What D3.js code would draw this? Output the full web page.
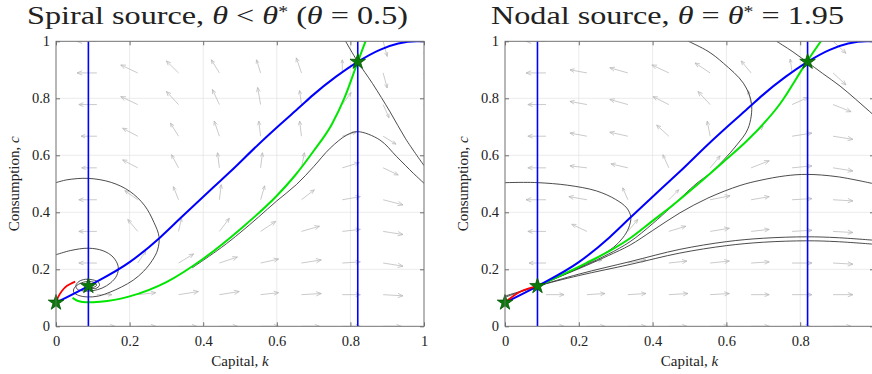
<!DOCTYPE html>
<html>
<head>
<meta charset="utf-8">
<script src="https://cdn.jsdelivr.net/npm/d3@7"></script>
<style>
  body { margin: 0; background: #fff; }
  svg text { font-family: "Liberation Serif", "Times New Roman", serif; fill: #222; }
</style>
</head>
<body>
<svg id="chart" width="872" height="374"></svg>
<script>
// ---- data ----
const ticks = [0, 0.2, 0.4, 0.6, 0.8, 1];

// quiver grid (tails)
const kGrid = [0.111, 0.222, 0.333, 0.444, 0.556, 0.667, 0.778, 0.889, 1];
const cGrid = [1, 0.889, 0.778, 0.667, 0.556, 0.444, 0.333, 0.222, 0.111, 0];

// shared loci and steady states
const steadyStates = [[0, 0.083], [0.088, 0.141], [0.82, 0.928]];
const cDotZeroK = [0.088, 0.82];
const kDotZero = [[0, 0.083], [0.088, 0.141], [0.2, 0.225], [0.283, 0.312], [0.337, 0.378],
  [0.427, 0.487], [0.474, 0.543], [0.55, 0.638], [0.609, 0.708], [0.663, 0.77], [0.699, 0.812],
  [0.76, 0.875], [0.82, 0.928], [0.88, 0.97], [0.93, 0.992], [0.98, 1.0], [1.0, 1.0]];

// left panel: spiral source
const spiralSaddle = [[0.045, 0.1], [0.06, 0.089], [0.083, 0.084], [0.12, 0.086], [0.2, 0.105],
  [0.3, 0.155], [0.4, 0.237], [0.5, 0.34], [0.6, 0.458], [0.65, 0.53], [0.7, 0.615],
  [0.75, 0.71], [0.785, 0.805], [0.82, 0.928], [0.841, 1.0]];
const spiralRed = [[0, 0.083], [0.006, 0.103], [0.016, 0.124], [0.03, 0.142], [0.052, 0.157]];
const spiralTrajA = [[0, 0.504], [0.03, 0.514], [0.088, 0.519], [0.15, 0.505], [0.2, 0.474],
  [0.24, 0.425], [0.266, 0.365], [0.28, 0.314], [0.276, 0.268], [0.262, 0.232], [0.238, 0.193],
  [0.21, 0.162], [0.178, 0.138], [0.147, 0.12], [0.115, 0.106], [0.085, 0.103], [0.062, 0.108],
  [0.048, 0.12], [0.05, 0.135], [0.065, 0.15], [0.085, 0.157], [0.105, 0.153], [0.11, 0.143],
  [0.098, 0.136], [0.088, 0.141]];
const spiralTrajB = [[0, 0.251], [0.04, 0.266], [0.088, 0.274], [0.128, 0.265], [0.155, 0.243],
  [0.169, 0.21], [0.165, 0.178], [0.148, 0.152], [0.125, 0.134], [0.1, 0.125], [0.075, 0.124],
  [0.058, 0.13], [0.054, 0.143], [0.062, 0.157], [0.08, 0.165], [0.1, 0.163], [0.115, 0.155],
  [0.118, 0.143], [0.108, 0.133], [0.094, 0.135], [0.088, 0.141]];
const spiralTrajHump = [[0.37, 0.205], [0.45, 0.277], [0.5, 0.328], [0.55, 0.383], [0.6, 0.44],
  [0.654, 0.498], [0.7, 0.56], [0.745, 0.625], [0.79, 0.671], [0.82, 0.683], [0.88, 0.654],
  [0.926, 0.595], [0.971, 0.537], [1.0, 0.502]];
const spiralTrajTop = [[0.787, 1.0], [0.82, 0.928], [0.86, 0.852], [0.908, 0.752], [0.95, 0.658], [1.0, 0.564]];

const spiralU = [
  [-0.054, -0.046, -0.033, -0.022, -0.011, -0.014, 0, 0.011, 0.005],
  [-0.054, -0.046, -0.033, -0.022, -0.011, -0.014, 0, 0.011, 0.008],
  [-0.049, -0.046, -0.033, -0.019, -0.008, -0.005, 0.024, 0.016, 0.014],
  [-0.043, -0.041, -0.022, -0.014, -0.005, -0.005, 0.038, 0.035, 0.027],
  [-0.041, -0.041, -0.019, -0.005, 0.005, 0.008, 0.046, 0.041, 0.035],
  [-0.049, -0.035, -0.014, 0.005, 0.011, 0.035, 0.049, 0.054, 0.049],
  [-0.049, -0.027, 0.008, 0.027, 0.041, 0.049, 0.049, 0.054, 0.052],
  [-0.049, 0.022, 0.041, 0.049, 0.049, 0.054, 0.049, 0.054, 0.054],
  [0.041, 0.049, 0.054, 0.054, 0.049, 0.054, 0.049, 0.054, 0.054],
  [0.049, 0.049, 0.049, 0.049, 0.049, 0.049, 0.049, 0.049, 0.049]];
const spiralV = [
  [0, 0.028, 0.042, 0.046, 0.046, 0.053, 0.046, -0.053, -0.053],
  [0, 0.028, 0.042, 0.046, 0.046, 0.053, 0.046, -0.053, -0.053],
  [0, 0.028, 0.046, 0.053, 0.06, 0.049, 0.042, -0.046, -0.049],
  [0, 0.028, 0.046, 0.053, 0.053, 0.053, 0.014, -0.028, -0.042],
  [0, 0.028, 0.046, 0.053, 0.053, 0.053, 0.018, -0.025, -0.032],
  [0, 0.032, 0.046, 0.053, 0.049, 0.035, 0.011, -0.018, -0.021],
  [0, 0.042, 0.046, 0.046, 0.035, 0.018, 0.007, -0.011, -0.014],
  [0, 0.042, 0.032, 0.021, 0.014, 0.011, 0.004, -0.011, -0.011],
  [0, 0.007, 0.011, 0.011, 0.007, 0.004, 0, -0.004, -0.004],
  [0, 0, 0, 0, 0, 0, 0, 0, 0]];

// right panel: nodal source
const nodalSaddle = [[0.088, 0.141], [0.15, 0.178], [0.22, 0.222], [0.28, 0.262], [0.339, 0.309],
  [0.4, 0.37], [0.445, 0.415], [0.52, 0.496], [0.59, 0.575], [0.655, 0.65], [0.745, 0.78],
  [0.818, 0.928], [0.856, 1.0]];
const nodalRed = [[0, 0.083], [0.02, 0.104], [0.041, 0.121], [0.065, 0.133], [0.088, 0.141]];
const nodalTrajLoop = [[0, 0.504], [0.05, 0.505], [0.09, 0.504], [0.17, 0.495], [0.248, 0.475],
  [0.3, 0.445], [0.33, 0.415], [0.341, 0.383], [0.335, 0.345], [0.319, 0.31], [0.295, 0.278],
  [0.265, 0.252], [0.23, 0.226], [0.18, 0.194], [0.13, 0.165], [0.088, 0.141]];
const nodalTrajBend = [[0.497, 1.0], [0.55, 0.965], [0.592, 0.923], [0.646, 0.853], [0.668, 0.782],
  [0.659, 0.695], [0.628, 0.636], [0.592, 0.583], [0.556, 0.537], [0.518, 0.5], [0.45, 0.418],
  [0.4, 0.36], [0.339, 0.297], [0.28, 0.253], [0.22, 0.216], [0.15, 0.176], [0.088, 0.141]];
const nodalTrajTop = [[0.736, 1.0], [0.778, 0.965], [0.818, 0.928], [0.86, 0.888], [0.908, 0.843], [0.95, 0.797], [1.0, 0.74]];
const nodalTrajHump = [[0.088, 0.141], [0.15, 0.175], [0.22, 0.213], [0.28, 0.248], [0.339, 0.285],
  [0.4, 0.336], [0.474, 0.398], [0.55, 0.45], [0.637, 0.494], [0.691, 0.512], [0.76, 0.528],
  [0.818, 0.533], [0.9, 0.525], [1.0, 0.5]];
const nodalTrajLow1 = [[0, 0.106], [0.04, 0.122], [0.088, 0.141], [0.2, 0.183], [0.339, 0.227], [0.474, 0.27],
  [0.6, 0.297], [0.7, 0.309], [0.818, 0.314], [0.9, 0.311], [1.0, 0.302]];
const nodalTrajLow2 = [[0, 0.102], [0.04, 0.12], [0.088, 0.141], [0.2, 0.178], [0.339, 0.217], [0.474, 0.257],
  [0.6, 0.283], [0.7, 0.295], [0.818, 0.3], [0.9, 0.297], [1.0, 0.288]];

const nodalU = [
  [-0.054, -0.046, -0.049, -0.046, -0.041, -0.027, -0.005, 0.035, 0.027],
  [-0.054, -0.046, -0.049, -0.046, -0.041, -0.027, -0.005, 0.035, 0.033],
  [-0.049, -0.046, -0.049, -0.043, -0.033, -0.008, 0.043, 0.049, 0.043],
  [-0.049, -0.046, -0.049, -0.033, -0.008, 0.033, 0.054, 0.054, 0.052],
  [-0.049, -0.046, -0.046, -0.016, 0.027, 0.049, 0.054, 0.054, 0.054],
  [-0.054, -0.049, -0.014, 0.027, 0.054, 0.049, 0.054, 0.054, 0.054],
  [-0.049, -0.041, 0.027, 0.046, 0.052, 0.049, 0.054, 0.054, 0.054],
  [-0.046, 0.041, 0.049, 0.049, 0.052, 0.049, 0.054, 0.054, 0.054],
  [0.049, 0.049, 0.049, 0.052, 0.052, 0.049, 0.054, 0.054, 0.054],
  [0.049, 0.049, 0.049, 0.049, 0.049, 0.049, 0.049, 0.049, 0.049]];
const nodalV = [
  [0, 0.011, 0.018, 0.028, 0.035, 0.042, 0.049, -0.042, -0.046],
  [0, 0.011, 0.018, 0.028, 0.035, 0.042, 0.049, -0.042, -0.042],
  [0, 0.011, 0.018, 0.028, 0.046, 0.049, 0.025, -0.025, -0.032],
  [0, 0.011, 0.014, 0.039, 0.053, 0.035, 0.011, -0.011, -0.018],
  [0, 0.007, 0.014, 0.046, 0.042, 0.025, 0.007, -0.011, -0.014],
  [0, 0.011, 0.042, 0.035, 0.014, 0.011, 0.004, -0.004, -0.007],
  [0, 0.025, 0.042, 0.018, 0.011, 0.007, 0.004, -0.004, -0.004],
  [0, 0.011, 0.011, 0.007, 0.007, 0.004, 0, -0.004, -0.004],
  [0, 0.004, 0.004, 0.004, 0.004, 0, 0, 0, 0],
  [0, 0, 0, 0, 0, 0, 0, 0, 0]];

// ---- drawing ----
const svg = d3.select('#chart');
const yTop = 41.3, yBottom = 326.3;

const panels = [
  { id: 'L', left: 56, right: 424, title: ['Spiral source, ', ['θ', 'i'], ' < ', ['θ', 'i'], ['*', 's'], ' (', ['θ', 'i'], ' = 0.5)'],
    titleX: 217.5, titleW: 381,
    saddle: spiralSaddle, red: spiralRed, U: spiralU, V: spiralV,
    trajs: [spiralTrajA, spiralTrajB, spiralTrajHump, spiralTrajTop] },
  { id: 'R', left: 505, right: 874, title: ['Nodal source, ', ['θ', 'i'], ' = ', ['θ', 'i'], ['*', 's'], ' = 1.95'],
    titleX: 667.5, titleW: 353,
    saddle: nodalSaddle, red: nodalRed, U: nodalU, V: nodalV,
    trajs: [nodalTrajLoop, nodalTrajBend, nodalTrajTop, nodalTrajHump, nodalTrajLow1, nodalTrajLow2] }
];

panels.forEach(p => {
  const x = d3.scaleLinear().domain([0, 1]).range([p.left, p.right]);
  const y = d3.scaleLinear().domain([0, 1]).range([yBottom, yTop]);

  svg.append('clipPath').attr('id', 'clip' + p.id).append('rect')
    .attr('x', p.left).attr('y', yTop).attr('width', p.right - p.left).attr('height', yBottom - yTop);

  const g = svg.append('g');

  // grid
  g.append('g').selectAll('line').data(ticks).join('line')
    .attr('x1', d => x(d)).attr('x2', d => x(d)).attr('y1', yTop).attr('y2', yBottom)
    .attr('stroke', '#e3e3e3').attr('stroke-width', 0.7);
  g.append('g').selectAll('line').data(ticks).join('line')
    .attr('y1', d => y(d)).attr('y2', d => y(d)).attr('x1', p.left).attr('x2', p.right)
    .attr('stroke', '#e3e3e3').attr('stroke-width', 0.7);

  const plot = g.append('g').attr('clip-path', 'url(#clip' + p.id + ')');

  // quiver
  const arrows = [];
  cGrid.forEach((c, i) => kGrid.forEach((k, j) => arrows.push({ k, c, u: p.U[i][j], v: p.V[i][j] })));
  plot.append('g').selectAll('path').data(arrows).join('path')
    .attr('d', a => {
      const x0 = x(a.k), y0 = y(a.c), x1 = x(a.k + a.u), y1 = y(a.c + a.v);
      const ang = Math.atan2(y1 - y0, x1 - x0), len = Math.hypot(x1 - x0, y1 - y0);
      const h = len * 0.28, s = 0.4;
      const hx1 = x1 - h * Math.cos(ang - s), hy1 = y1 - h * Math.sin(ang - s);
      const hx2 = x1 - h * Math.cos(ang + s), hy2 = y1 - h * Math.sin(ang + s);
      return `M${x0},${y0}L${x1},${y1}M${hx1},${hy1}L${x1},${y1}L${hx2},${hy2}`;
    })
    .attr('fill', 'none').attr('stroke', '#b8b8b8').attr('stroke-width', 0.75);

  const lineX = d3.line().x(d => x(d[0])).y(d => y(d[1])).curve(d3.curveMonotoneX);
  const lineS = d3.line().x(d => x(d[0])).y(d => y(d[1])).curve(d3.curveCatmullRom.alpha(0.5));

  // trajectories
  p.trajs.forEach(t => {
    plot.append('path').attr('d', lineS(t))
      .attr('fill', 'none').attr('stroke', '#383838').attr('stroke-width', 0.9);
  });

  // saddle path
  plot.append('path').attr('d', lineX(p.saddle))
    .attr('fill', 'none').attr('stroke', '#00e600').attr('stroke-width', 2);

  // k-dot = 0 locus
  plot.append('path').attr('d', lineX(kDotZero))
    .attr('fill', 'none').attr('stroke', '#0000ff').attr('stroke-width', 2);

  // red branch
  plot.append('path').attr('d', lineS(p.red))
    .attr('fill', 'none').attr('stroke', '#ff0000').attr('stroke-width', 1.8);

  // c-dot = 0 loci
  plot.append('g').selectAll('line').data(cDotZeroK).join('line')
    .attr('x1', d => x(d)).attr('x2', d => x(d)).attr('y1', yTop).attr('y2', yBottom)
    .attr('stroke', '#0000ff').attr('stroke-width', 1.6);

  // steady states
  g.append('g').selectAll('path').data(steadyStates).join('path')
    .attr('transform', d => `translate(${x(d[0])},${y(d[1])})`)
    .attr('d', d3.symbol(d3.symbolStar, 75))
    .attr('fill', '#0b7a0b').attr('stroke', '#005500').attr('stroke-width', 0.8);

  // box
  g.append('rect').attr('x', p.left).attr('y', yTop).attr('width', p.right - p.left).attr('height', yBottom - yTop)
    .attr('fill', 'none').attr('stroke', '#6e6e6e').attr('stroke-width', 0.9);

  // axes
  const fmt = d => String(d);
  const ax = g.append('g').attr('transform', `translate(0,${yBottom})`)
    .call(d3.axisBottom(x).tickValues(ticks).tickFormat(fmt).tickSizeInner(-4).tickSizeOuter(0).tickPadding(9));
  const ay = g.append('g').attr('transform', `translate(${p.left},0)`)
    .call(d3.axisLeft(y).tickValues(ticks).tickFormat(fmt).tickSizeInner(-4).tickSizeOuter(0).tickPadding(6));
  const axT = g.append('g').attr('transform', `translate(0,${yTop})`)
    .call(d3.axisTop(x).tickValues(ticks).tickFormat('').tickSizeInner(-4).tickSizeOuter(0));
  const ayR = g.append('g').attr('transform', `translate(${p.right},0)`)
    .call(d3.axisRight(y).tickValues(ticks).tickFormat('').tickSizeInner(-4).tickSizeOuter(0));
  [ax, ay, axT, ayR].forEach(a => {
    a.attr('font-family', null).attr('font-size', null);
    a.select('.domain').remove();
    a.selectAll('line').attr('stroke', '#6e6e6e');
    a.selectAll('text').style('font-size', '14.5px').attr('fill', '#222');
  });

  // axis labels
  const xl = g.append('text').attr('x', (p.left + p.right) / 2).attr('y', 365.5)
    .attr('text-anchor', 'middle').style('font-size', '15px');
  xl.append('tspan').text('Capital, ');
  xl.append('tspan').style('font-style', 'italic').text('k');

  const yl = g.append('text').attr('transform', `translate(${p.left - 37},${(yTop + yBottom) / 2}) rotate(-90)`)
    .attr('text-anchor', 'middle').style('font-size', '15px');
  yl.append('tspan').text('Consumption, ');
  yl.append('tspan').style('font-style', 'italic').text('c');

  // title
  const tt = g.append('text').attr('x', p.titleX).attr('y', 24).attr('text-anchor', 'middle')
    .style('font-size', '26px').attr('textLength', p.titleW).attr('lengthAdjust', 'spacingAndGlyphs');
  let lift = 0;
  p.title.forEach(part => {
    const ts = tt.append('tspan');
    if (lift) { ts.attr('dy', lift); lift = 0; }
    if (typeof part === 'string') ts.text(part);
    else if (part[1] === 'i') ts.style('font-style', 'italic').text(part[0]);
    else { ts.attr('dy', -7).style('font-size', '16px').text(part[0]); lift = 7; }
  });
});
</script>
</body>
</html>
